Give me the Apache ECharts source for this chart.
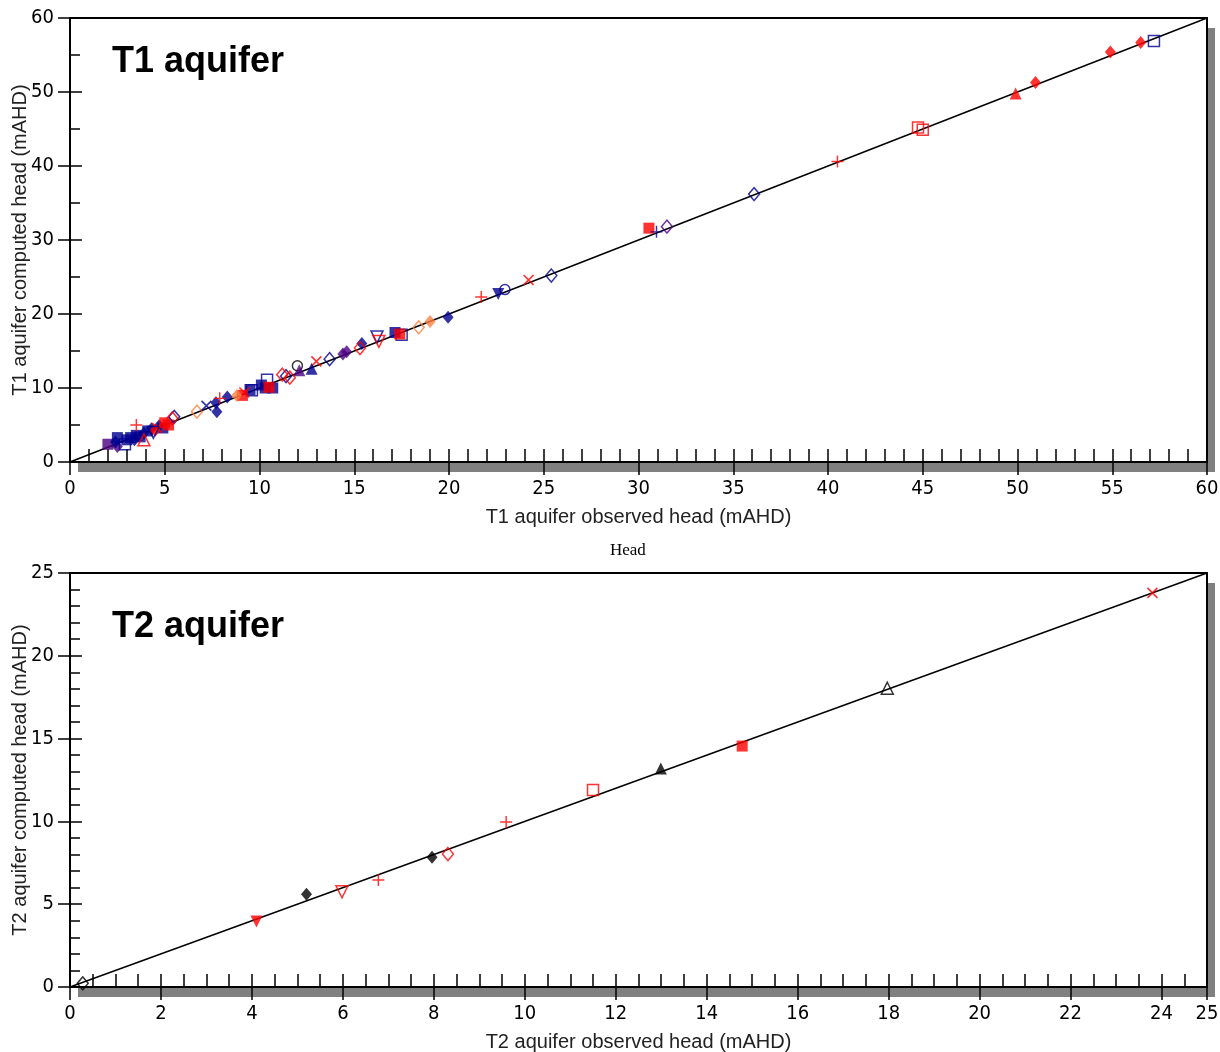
<!DOCTYPE html>
<html>
<head>
<meta charset="utf-8">
<title>Observed vs computed heads</title>
<script src="https://cdn.jsdelivr.net/npm/echarts@6/dist/echarts.min.js"></script>
<style>
  html, body { margin: 0; padding: 0; background: #fff; }
  #chart { width: 1220px; height: 1052px; }
</style>
</head>
<body>
<div id="chart"></div>
<script>
// T1 aquifer: observed vs computed head (mAHD), marker key per bore
const t1Observed = [
  2.0, 2.5, 2.9, 2.5, 2.4, 3.0, 3.2, 3.4, 3.5, 3.7,
  3.9, 3.5, 3.9, 4.1, 4.3, 4.5, 4.6, 4.7, 4.4, 5.0,
  5.2, 4.9, 5.5, 5.4, 6.7, 7.2, 7.7, 7.75, 7.9, 8.3,
  8.8, 9.2, 9.1, 9.6, 9.5, 10.1, 10.4, 10.5, 10.7, 10.3,
  11.2, 11.4, 11.6, 12.0, 12.1, 12.75, 13.0, 13.7, 14.6, 14.4,
  15.3, 15.4, 16.3, 16.2, 17.15, 17.5, 17.4, 18.4, 19.0, 19.95,
  21.7, 22.6, 22.95, 24.2, 25.4, 30.55, 30.95, 31.5, 36.1, 40.5,
  44.75, 45.0, 49.9, 50.95, 54.9, 56.5, 57.2
];
const t1Computed = [
  2.4, 2.1, 2.4, 3.3, 2.7, 3.0, 3.3, 3.0, 3.6, 3.4,
  3.0, 5.0, 3.9, 4.2, 4.5, 4.3, 4.6, 4.9, 4.0, 5.3,
  5.0, 4.6, 6.1, 5.9, 6.8, 7.6, 8.0, 6.8, 8.6, 8.8,
  9.0, 9.4, 9.0, 9.7, 9.8, 10.4, 11.1, 10.1, 10.0, 10.0,
  11.8, 11.6, 11.4, 13.0, 12.4, 12.6, 13.6, 13.9, 14.9, 14.6,
  15.4, 16.0, 16.3, 16.9, 17.5, 17.2, 17.3, 18.2, 19.0, 19.55,
  22.3, 22.7, 23.3, 24.6, 25.2, 31.6, 31.1, 31.8, 36.2, 40.6,
  45.2, 44.9, 49.8, 51.3, 55.4, 56.7, 56.9
];
const t1Marker = [
  'pS', 'pD', 'bs', 'bS', 'bD', 'bS', 'bS', 'bD', 'bS', 'bS',
  'rt', 'r+', 'bD', 'bS', 'bD', 'rD', 'rx', 'bD', 'bv', 'rS',
  'rS', 'bS', 'bd', 'rd', 'od', 'bx', 'bD', 'bD', 'r+', 'bD',
  'oD', 'rx', 'rS', 'bs', 'bS', 'bS', 'bs', 'rS', 'bS', 'bS',
  'rd', 'bd', 'rd', 'ko', 'pT', 'bT', 'rx', 'bd', 'pD', 'pD',
  'rd', 'bD', 'rv', 'bv', 'bS', 'bs', 'rS', 'od', 'oD', 'bD',
  'r+', 'bV', 'bo', 'rx', 'bd', 'rS', 'b+', 'pd', 'bd', 'r+',
  'rs', 'rs', 'rT', 'rD', 'rD', 'rD', 'bs'
];

// T2 aquifer
const t2Observed = [0.28, 4.1, 5.2, 5.98, 6.78, 7.96, 8.31, 9.59, 11.5, 12.99, 14.78, 17.97, 23.8];
const t2Computed = [0.22, 3.95, 5.6, 5.75, 6.46, 7.83, 8.03, 9.96, 11.9, 13.2, 14.55, 18.04, 23.8];
const t2Marker = ['kd', 'rV', 'kD', 'rv', 'r+', 'kD', 'rd', 'r+', 'rs', 'kT', 'rS', 'kt', 'rx'];

// axis ranges (also the ends of the 1:1 line)
const t1Range = [0, 60];
const t2Range = [0, 25];

const colors = { b: '#000090', r: '#ff0000', p: '#4b0082', o: '#ff7f3f', k: '#000000' };
const plusPath = 'path://M0,4.4H10V5.6H0Z M4.4,0H5.6V10H4.4Z';

function markerStyle(key) {
  const color = colors[key[0]];
  const kind = key[1];
  const s = { symbol: 'rect', symbolSize: 11, symbolRotate: 0, filled: kind === kind.toUpperCase() };
  switch (kind.toLowerCase()) {
    case 's': s.symbol = 'rect'; s.symbolSize = 11; break;
    case 'd': s.symbol = 'diamond'; s.symbolSize = [11, 13]; break;
    case 't': s.symbol = 'triangle'; s.symbolSize = 12; break;
    case 'v': s.symbol = 'triangle'; s.symbolSize = 12; s.symbolRotate = 180; break;
    case 'o': s.symbol = 'circle'; s.symbolSize = 10; break;
    case '+': s.symbol = plusPath; s.symbolSize = 12; s.filled = true; break;
    case 'x': s.symbol = plusPath; s.symbolSize = 14; s.symbolRotate = 45; s.filled = true; break;
  }
  s.itemStyle = s.filled
    ? { color: color }
    : { color: 'rgba(255,255,255,0)', borderColor: color, borderWidth: 1.5 };
  return s;
}

function buildScatter(obs, comp, marks, axisIndex) {
  const groups = {};
  marks.forEach((m, i) => {
    (groups[m] = groups[m] || []).push([obs[i], comp[i]]);
  });
  return Object.keys(groups).map(key => {
    const st = markerStyle(key);
    return {
      type: 'scatter',
      name: key,
      xAxisIndex: axisIndex,
      yAxisIndex: axisIndex,
      data: groups[key],
      symbol: st.symbol,
      symbolSize: st.symbolSize,
      symbolRotate: st.symbolRotate,
      itemStyle: st.itemStyle,
      z: 3
    };
  });
}

const labelFont = "'Liberation Sans Narrow', 'DejaVu Sans Condensed', 'Liberation Sans', sans-serif";
const nameFont = "'Liberation Sans', Arial, sans-serif";
const black = '#000';

function baseAxis(gridIndex, range, interval, position) {
  return {
    gridIndex: gridIndex,
    type: 'value',
    min: range[0],
    max: range[1],
    interval: interval,
    position: position,
    splitLine: { show: false }
  };
}

// main axis (inner ticks + labels + name), outer major ticks, and the opposite frame line
function axisSet(dim, gridIndex, range, interval, minorSplit, title) {
  const isX = dim === 'x';
  const main = Object.assign(baseAxis(gridIndex, range, interval, isX ? 'bottom' : 'left'), {
    axisLine: { show: true, onZero: false, lineStyle: { color: black, width: 2 } },
    axisTick: { show: true, inside: true, length: isX ? 13 : 12, lineStyle: { color: black, width: 1.5 } },
    minorTick: { show: true, splitNumber: minorSplit, length: isX ? 13 : 10, lineStyle: { color: black, width: 1.5 } },
    axisLabel: { margin: isX ? 17 : 16, fontSize: 20, fontFamily: labelFont, color: black },
    name: title,
    nameLocation: 'middle',
    nameGap: isX ? 45 : 40,
    nameMoveOverlap: false,
    nameTextStyle: { fontSize: 20, fontFamily: nameFont, color: '#222' }
  });
  const outer = Object.assign(baseAxis(gridIndex, range, interval, isX ? 'bottom' : 'left'), {
    axisLine: { show: false, onZero: false },
    axisTick: { show: true, inside: false, length: isX ? 13 : 12, lineStyle: { color: black, width: 1.5 } },
    axisLabel: { show: false }
  });
  const frame = Object.assign(baseAxis(gridIndex, range, interval, isX ? 'top' : 'right'), {
    axisLine: { show: true, onZero: false, lineStyle: { color: black, width: 2 } },
    axisTick: { show: false },
    axisLabel: { show: false }
  });
  return [main, outer, frame];
}

function oneToOne(range, axisIndex) {
  return {
    type: 'line',
    xAxisIndex: axisIndex,
    yAxisIndex: axisIndex,
    data: [[range[0], range[0]], [range[1], range[1]]],
    symbol: 'none',
    silent: true,
    lineStyle: { color: black, width: 1.5 },
    z: 2
  };
}

const gridStyle = {
  show: true,
  outerBoundsMode: 'none',
  containLabel: false,
  backgroundColor: '#fff',
  borderWidth: 0,
  shadowColor: '#808080',
  shadowBlur: 0,
  shadowOffsetX: 8,
  shadowOffsetY: 10
};

const chart = echarts.init(document.getElementById('chart'), null, { renderer: 'canvas' });

const x1 = axisSet('x', 0, t1Range, 5, 5, 'T1 aquifer observed head (mAHD)');
const x2 = axisSet('x', 1, t2Range, 2, 4, 'T2 aquifer observed head (mAHD)');
const y1 = axisSet('y', 0, t1Range, 10, 2, 'T1 aquifer computed head (mAHD)');
const y2 = axisSet('y', 1, t2Range, 5, 5, 'T2 aquifer computed head (mAHD)');

chart.setOption({
  animation: false,
  backgroundColor: '#fff',
  title: [
    { text: 'T1 aquifer', left: 112, top: 44, padding: 0,
      textStyle: { fontSize: 36, fontWeight: 'bold', fontFamily: nameFont, color: black } },
    { text: 'T2 aquifer', left: 112, top: 609, padding: 0,
      textStyle: { fontSize: 36, fontWeight: 'bold', fontFamily: nameFont, color: black } },
    { text: 'Head', left: 610, top: 542, padding: 0,
      textStyle: { fontSize: 17, fontWeight: 'normal', fontFamily: "'Liberation Serif', 'DejaVu Serif', serif", color: black } }
  ],
  grid: [
    Object.assign({ left: 70, top: 18, width: 1137, height: 444 }, gridStyle),
    Object.assign({ left: 70, top: 573, width: 1137, height: 414 }, gridStyle)
  ],
  // index 0/1 = main axes of T1/T2, the rest are tick and frame overlays
  xAxis: [x1[0], x2[0], x1[1], x2[1], x1[2], x2[2]],
  yAxis: [y1[0], y2[0], y1[1], y2[1], y1[2], y2[2]],
  series: [
    oneToOne(t1Range, 0),
    oneToOne(t2Range, 1),
    ...buildScatter(t1Observed, t1Computed, t1Marker, 0),
    ...buildScatter(t2Observed, t2Computed, t2Marker, 1)
  ]
});
</script>
</body>
</html>
